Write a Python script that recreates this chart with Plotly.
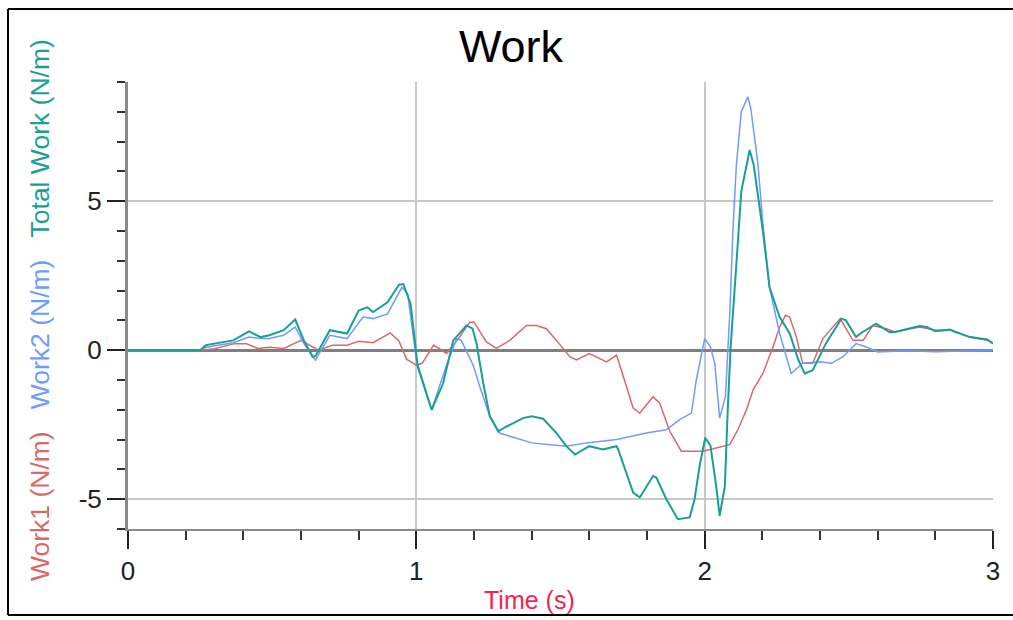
import plotly.graph_objects as go

# ---- data ----
t_work1 = [0, 0.25, 0.30, 0.37, 0.41, 0.45, 0.49, 0.54, 0.60, 0.66, 0.71, 0.76, 0.80, 0.85, 0.91, 0.94,
           0.966, 1.00, 1.02, 1.06, 1.105, 1.15, 1.185, 1.20, 1.243, 1.278, 1.324, 1.382, 1.417, 1.451,
           1.486, 1.532, 1.555, 1.60, 1.66, 1.694, 1.70, 1.752, 1.775, 1.821, 1.844, 1.879, 1.919, 1.994,
           2.087, 2.115, 2.145, 2.168, 2.202, 2.237, 2.26, 2.28, 2.295, 2.318, 2.34, 2.375, 2.41, 2.47,
           2.514, 2.55, 2.583, 2.63, 2.66, 2.745, 2.80, 2.85, 2.92, 2.98, 3.0]
work1 = [0, 0, 0.05, 0.22, 0.22, 0.06, 0.1, 0.06, 0.33, 0.0, 0.17, 0.17, 0.3, 0.25, 0.58, 0.3,
         -0.3, -0.5, -0.44, 0.17, -0.11, 0.44, 0.94, 0.94, 0.28, 0.06, 0.33, 0.83, 0.83, 0.72,
         0.33, -0.22, -0.33, -0.11, -0.39, -0.17, -0.33, -1.94, -2.11, -1.56, -1.78, -2.72, -3.39, -3.39,
         -3.17, -2.67, -2.0, -1.33, -0.78, 0.11, 0.78, 1.17, 1.11, 0.44, -0.44, -0.44, 0.39, 1.06,
         0.33, 0.33, 0.83, 0.72, 0.61, 0.78, 0.67, 0.69, 0.44, 0.33, 0.25]

t_work2 = [0, 0.25, 0.27, 0.33, 0.365, 0.42, 0.46, 0.49, 0.54, 0.58, 0.61, 0.65, 0.70, 0.76, 0.815, 0.85,
           0.90, 0.95, 0.97, 1.00, 1.053, 1.105, 1.14, 1.156, 1.197, 1.22, 1.255, 1.289, 1.382, 1.40,
           1.52, 1.59, 1.694, 1.798, 1.867, 1.913, 1.954, 1.971, 2.0, 2.02, 2.035, 2.052, 2.072, 2.087,
           2.098, 2.11, 2.127, 2.15, 2.16, 2.185, 2.202, 2.225, 2.26, 2.30, 2.34, 2.40, 2.44, 2.48,
           2.525, 2.56, 2.60, 2.70, 2.80, 2.90, 3.0]
work2 = [0, 0, 0.1, 0.18, 0.25, 0.44, 0.39, 0.39, 0.5, 0.78, 0.22, -0.33, 0.5, 0.39, 1.11, 1.06,
         1.22, 2.11, 1.89, -0.3, -2.0, -0.5, 0.39, 0.33, -0.5, -1.22, -2.22, -2.78, -3.06, -3.11,
         -3.22, -3.11, -3.0, -2.78, -2.67, -2.33, -2.11, -1.0, 0.39, 0.11, -0.44, -2.28, -1.55, 1.22,
         4.0, 6.22, 8.0, 8.5, 8.11, 6.22, 4.22, 2.11, 0.56, -0.78, -0.44, -0.39, -0.44, -0.22,
         0.22, 0.11, -0.06, -0.02, -0.05, -0.02, 0.0]

t_total = [0, 0.25, 0.27, 0.31, 0.365, 0.42, 0.46, 0.49, 0.54, 0.58, 0.61, 0.64, 0.65, 0.70, 0.76, 0.80,
           0.83, 0.85, 0.90, 0.94, 0.955, 0.98, 1.005, 1.053, 1.093, 1.128, 1.174, 1.195, 1.209, 1.232,
           1.255, 1.284, 1.313, 1.37, 1.40, 1.44, 1.486, 1.52, 1.55, 1.60, 1.647, 1.694, 1.70, 1.752,
           1.775, 1.821, 1.833, 1.867, 1.907, 1.948, 1.965, 1.983, 2.002, 2.02, 2.04, 2.052, 2.07, 2.08,
           2.09, 2.11, 2.127, 2.156, 2.17, 2.202, 2.225, 2.26, 2.295, 2.325, 2.347, 2.375, 2.42, 2.474,
           2.49, 2.525, 2.54, 2.595, 2.64, 2.66, 2.745, 2.77, 2.80, 2.85, 2.87, 2.92, 2.98, 3.0]
total = [0, 0, 0.17, 0.23, 0.33, 0.63, 0.44, 0.5, 0.67, 1.03, 0.33, -0.22, -0.2, 0.67, 0.56, 1.33,
         1.44, 1.28, 1.61, 2.2, 2.22, 1.56, -0.56, -2.0, -1.11, 0.33, 0.83, 0.72, 0.22, -1.11,
         -2.22, -2.72, -2.56, -2.28, -2.22, -2.3, -2.78, -3.22, -3.5, -3.22, -3.33, -3.22, -3.33, -4.78,
         -4.94, -4.22, -4.28, -5.0, -5.67, -5.61, -5.0, -3.85, -2.94, -3.2, -4.56, -5.56, -4.56, -2.0,
         0.11, 2.89, 5.33, 6.72, 6.22, 4.0, 2.11, 1.11, 0.56, -0.33, -0.78, -0.67, 0.22, 1.06,
         1.0, 0.44, 0.56, 0.89, 0.61, 0.61, 0.81, 0.78, 0.64, 0.69, 0.61, 0.44, 0.36, 0.22]

x_tickvals = [0, 1, 2, 3]
y_tickvals = [-5, 0, 5]

C_RED = "#d9686b"
C_BLUE = "#6f9cff"
C_TEAL = "#1a9e96"
FONT = "Liberation Sans, Arial, sans-serif"

W, H = 1013, 620
L, R, T, B = 128, 20, 82, 91
pw, ph = W - L - R, H - T - B

def px_x(p):
    return (p - L) / pw

def px_y(p):
    return (H - B - p) / ph

fig = go.Figure()
fig.add_trace(go.Scatter(x=t_work1, y=work1, mode="lines", line=dict(color=C_RED, width=1.5), name="Work1"))
fig.add_trace(go.Scatter(x=t_work2, y=work2, mode="lines", line=dict(color=C_BLUE, width=1.5), name="Work2"))
fig.add_trace(go.Scatter(x=t_total, y=total, mode="lines", line=dict(color=C_TEAL, width=2), name="Total Work"))

fig.update_layout(
    width=W, height=H,
    margin=dict(l=L, r=R, t=T, b=B, autoexpand=False),
    paper_bgcolor="white", plot_bgcolor="white",
    showlegend=False,
    font=dict(family=FONT, color="#222222", size=26),
    title=dict(text="Work", x=511 / W, xanchor="center", xref="container",
               y=1 - 46 / H, yanchor="middle", yref="container",
               font=dict(size=45, color="black", family=FONT)),
)

fig.update_xaxes(
    range=[0, 3], tickvals=x_tickvals, ticktext=[str(v) for v in x_tickvals],
    ticks="outside", ticklen=18, tickwidth=2, tickcolor="#222222",
    minor=dict(dtick=0.2, tick0=0, ticks="outside", ticklen=9, tickwidth=2, tickcolor="#333333", showgrid=False),
    showline=True, linecolor="#8a8a8a", linewidth=2,
    showgrid=True, gridcolor="#c8c8c8", gridwidth=1.5,
    zeroline=False,
    tickfont=dict(size=26, color="#222222", family=FONT),
)
fig.update_yaxes(
    range=[-6, 9], tickvals=y_tickvals, ticktext=["-5", "0", "5"],
    ticks="outside", ticklen=18, tickwidth=2, tickcolor="#222222",
    minor=dict(dtick=1, tick0=0, ticks="outside", ticklen=8, tickwidth=2, tickcolor="#333333", showgrid=False),
    showline=True, linecolor="#8a8a8a", linewidth=3,
    showgrid=True, gridcolor="#c8c8c8", gridwidth=1.5,
    zeroline=True, zerolinecolor="#808080", zerolinewidth=3,
    tickfont=dict(size=26, color="#222222", family=FONT),
)

sp = "\u00a0\u00a0\u00a0"
ytitle = (f'<span style="color:{C_RED}">Work1 (N/m)</span>{sp}'
          f'<span style="color:{C_BLUE}">Work2 (N/m)</span>{sp}'
          f'<span style="color:{C_TEAL}">Total Work (N/m)</span>')
fig.add_annotation(text=ytitle, textangle=-90, xref="paper", yref="paper",
                   x=px_x(40), y=px_y(310), xanchor="center", yanchor="middle",
                   showarrow=False, font=dict(size=26.5, family=FONT))
fig.add_annotation(text="Time (s)", xref="paper", yref="paper",
                   x=px_x(529), y=px_y(600), xanchor="center", yanchor="middle",
                   showarrow=False, font=dict(size=25, family=FONT, color="#f5254f"))

# outer frame (left, top, bottom edges; the right edge lies outside the window)
frame = dict(color="black", width=2)
fig.add_shape(type="line", xref="paper", yref="paper", x0=px_x(8), x1=px_x(8), y0=px_y(615), y1=px_y(9), line=frame)
fig.add_shape(type="line", xref="paper", yref="paper", x0=px_x(8), x1=px_x(1013), y0=px_y(9), y1=px_y(9), line=frame)
fig.add_shape(type="line", xref="paper", yref="paper", x0=px_x(8), x1=px_x(1013), y0=px_y(615), y1=px_y(615), line=frame)

fig.write_html("out.html", config={"displayModeBar": False})

# remove the browser's default 8px body margin so the figure sits at the window origin
with open("out.html", "r", encoding="utf-8") as f:
    html = f.read()
html = html.replace("<head>", "<head><style>html,body{margin:0;padding:0;overflow:hidden;}</style>", 1)
with open("out.html", "w", encoding="utf-8") as f:
    f.write(html)
